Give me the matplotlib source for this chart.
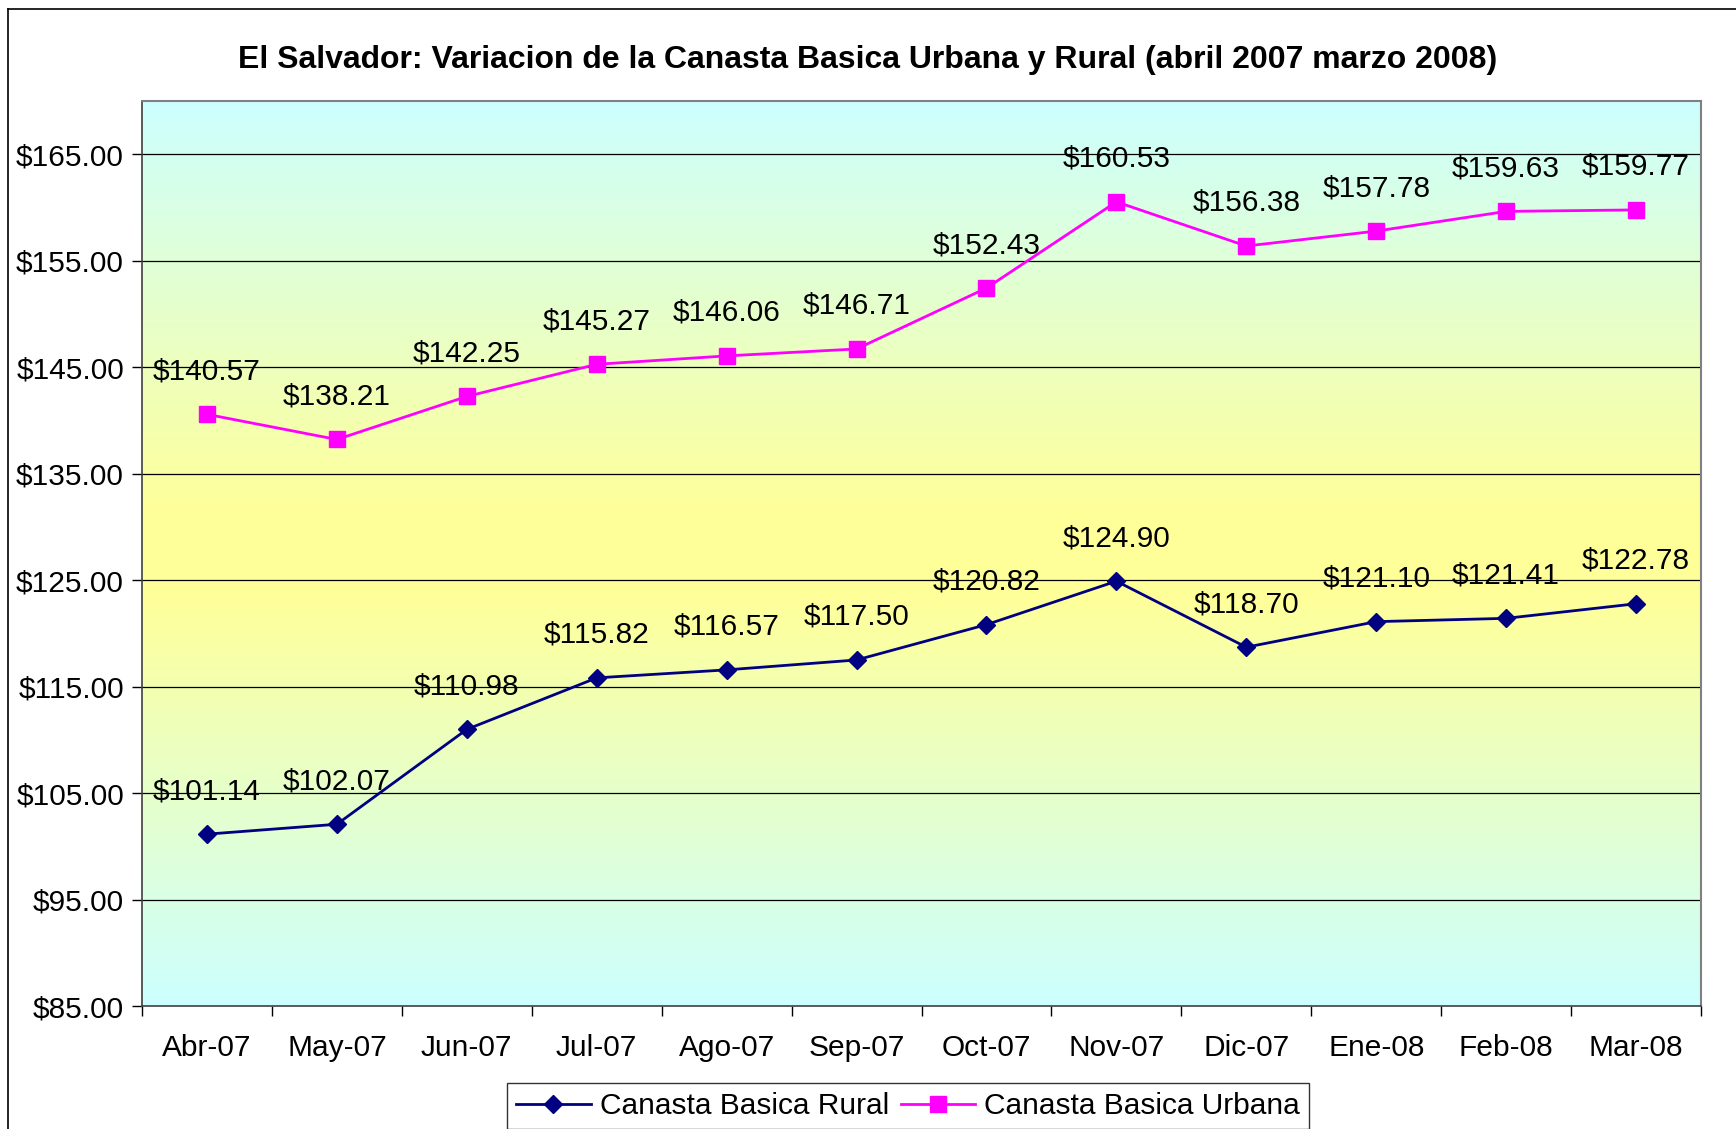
import numpy as np
import matplotlib
matplotlib.use("Agg")
import matplotlib.pyplot as plt
from matplotlib.lines import Line2D
from matplotlib.colors import to_rgb

months = ['Abr-07', 'May-07', 'Jun-07', 'Jul-07', 'Ago-07', 'Sep-07',
          'Oct-07', 'Nov-07', 'Dic-07', 'Ene-08', 'Feb-08', 'Mar-08']
rural = [101.14, 102.07, 110.98, 115.82, 116.57, 117.50,
         120.82, 124.90, 118.70, 121.10, 121.41, 122.78]
urbana = [140.57, 138.21, 142.25, 145.27, 146.06, 146.71,
          152.43, 160.53, 156.38, 157.78, 159.63, 159.77]
yticks = [85, 95, 105, 115, 125, 135, 145, 155, 165]

title = "El Salvador: Variacion de la Canasta Basica Urbana y Rural (abril 2007 marzo 2008)"

plt.rcParams['font.family'] = ['Liberation Sans', 'DejaVu Sans']
FS = 21.5

W, H = 1736, 1129
fig = plt.figure(figsize=(W / 100, H / 100), dpi=100)
fig.patch.set_facecolor('white')

# outer chart border (only left and top visible, rest is cropped)
fig.add_artist(Line2D([8 / W, 8 / W], [0, 1 - 9 / H], color='black', lw=1.2,
                      transform=fig.transFigure))
fig.add_artist(Line2D([8 / W, 1], [1 - 9 / H, 1 - 9 / H], color='black', lw=1.2,
                      transform=fig.transFigure))

ax = fig.add_axes([142 / W, 1 - 1006 / H, (1701 - 142) / W, (1006 - 101) / H])

x = np.arange(len(months))
ymin, ymax = 85, 170

# background gradient: cyan at top/bottom, pale yellow in the middle
edge = np.array(to_rgb('#ccffff'))
mid = np.array(to_rgb('#ffff99'))
t = np.linspace(0, 1, 400)
w = np.clip((1 - np.abs(t - 0.5) * 2) * 1.1, 0, 1)
grad = edge[None, :] * (1 - w[:, None]) + mid[None, :] * w[:, None]
ax.imshow(grad[:, None, :], extent=[-0.5, len(months) - 0.5, ymin, ymax],
          aspect='auto', origin='lower', zorder=0)

for yv in yticks[1:]:
    ax.axhline(yv, color='black', lw=0.9, zorder=1)

ax.plot(x, rural, color='#000080', marker='D', markersize=9, lw=2,
        label='Canasta Basica Rural', zorder=3)
ax.plot(x, urbana, color='#ff00ff', marker='s', markersize=11, lw=2,
        label='Canasta Basica Urbana', zorder=3)

for xi, v in zip(x, rural):
    ax.annotate('$%.2f' % v, (xi, v), xytext=(0, 31), textcoords='offset points',
                ha='center', va='center', fontsize=FS, zorder=4)
for xi, v in zip(x, urbana):
    ax.annotate('$%.2f' % v, (xi, v), xytext=(0, 31), textcoords='offset points',
                ha='center', va='center', fontsize=FS, zorder=4)

ax.set_xlim(-0.5, len(months) - 0.5)
ax.set_ylim(ymin, ymax)
ax.set_yticks(yticks)
ax.set_yticklabels(['$%.2f' % v for v in yticks], fontsize=FS)
ax.set_xticks(np.arange(-0.5, len(months)), minor=False)
ax.set_xticklabels([])
ax.set_xticks(x, minor=True)
ax.set_xticklabels(months, minor=True, fontsize=FS)
ax.tick_params(axis='x', which='major', length=7, direction='out', width=1)
ax.tick_params(axis='x', which='minor', length=0, pad=20)
ax.tick_params(axis='y', length=7, direction='out', width=1, pad=6)

for side in ['top', 'right']:
    ax.spines[side].set_color('#808080')
    ax.spines[side].set_linewidth(1.5)
for side in ['left', 'bottom']:
    ax.spines[side].set_color('#404040')
    ax.spines[side].set_linewidth(1.2)

fig.text(0.5, 1 - 60 / H, title, ha='center', va='center', fontsize=23,
         fontweight='bold')

fig.legend(loc='upper center', bbox_to_anchor=(908 / W, 1 - 1083 / H), ncol=2,
           fontsize=FS, frameon=True, fancybox=False, edgecolor='black',
           borderpad=0.3, borderaxespad=0, handlelength=2.5, columnspacing=0.4,
           handletextpad=0.3)

fig.savefig('out.png', dpi=100)
